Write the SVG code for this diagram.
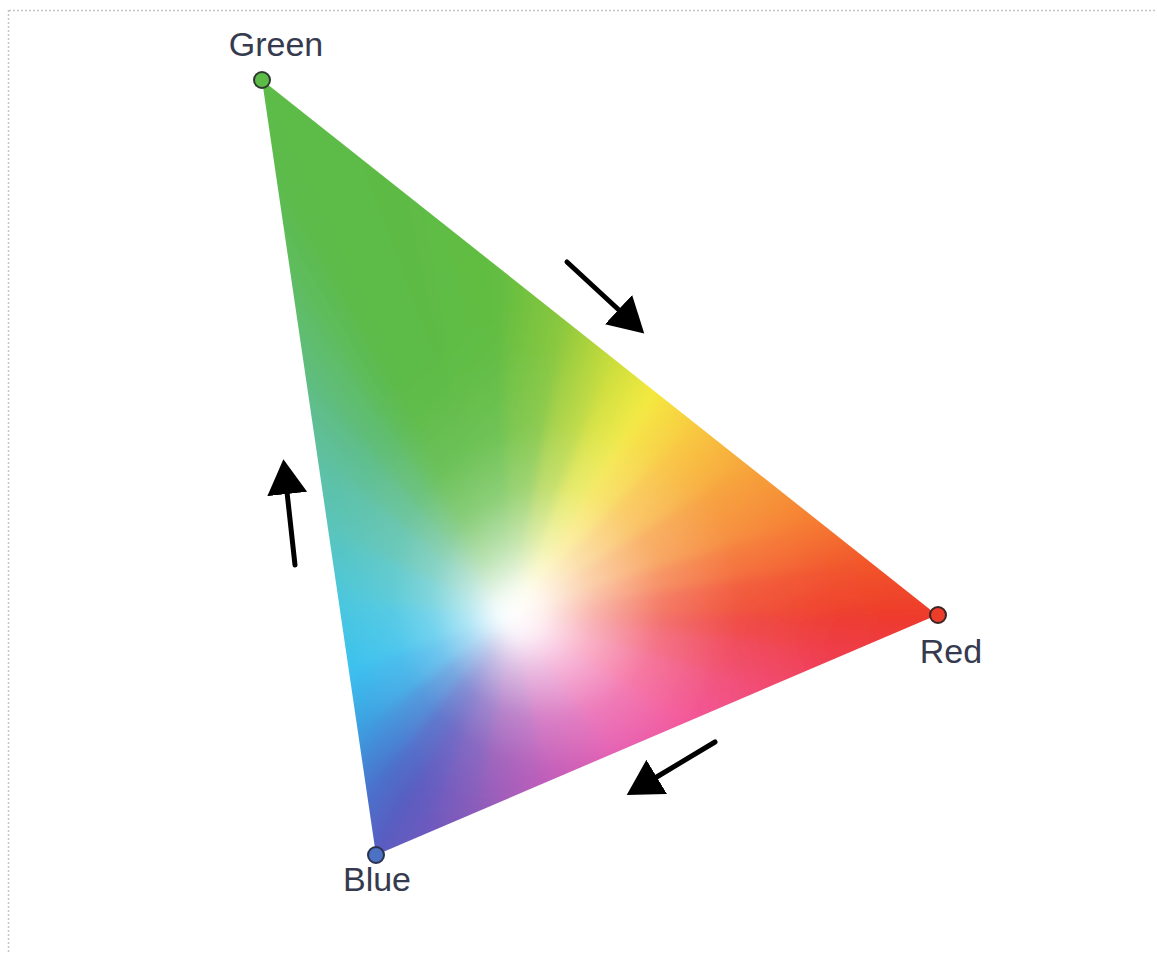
<svg xmlns="http://www.w3.org/2000/svg" width="1157" height="953" viewBox="0 0 1157 953">
<style>
.lbl{font-family:"Liberation Sans",Arial,sans-serif;font-size:34px;fill:#363a4e;text-anchor:middle}
.dot{stroke-width:2}
.arr{stroke:#000;stroke-width:5;stroke-linecap:round;fill:none;marker-end:url(#ah)}
.sl{stroke-width:1.2;stroke-linejoin:round}
.brd{stroke:#c4c4c4;stroke-width:1.5;stroke-dasharray:2 2;fill:none}
</style>
<defs>
<marker id="ah" markerUnits="userSpaceOnUse" markerWidth="40" markerHeight="42" refX="2" refY="20" orient="auto"><path d="M0,0 L35,20 L0,40 Z" fill="#000"/></marker>
<clipPath id="tri"><polygon points="262,80 937,615 376,855"/></clipPath>
<filter id="soft" x="-5%" y="-5%" width="110%" height="110%"><feGaussianBlur stdDeviation="4"/></filter>
<linearGradient id="t0" gradientUnits="userSpaceOnUse" x1="262" y1="80" x2="344.59" y2="48.7"><stop offset="0" stop-color="#5dbb47"/><stop offset="1" stop-color="#5dbb45"/></linearGradient>
<linearGradient id="t1" gradientUnits="userSpaceOnUse" x1="397" y1="187" x2="482.57" y2="172.79"><stop offset="0" stop-color="#5dbb45"/><stop offset="1" stop-color="#62bd42"/></linearGradient>
<linearGradient id="t2" gradientUnits="userSpaceOnUse" x1="498.25" y1="267.25" x2="568.82" y2="271.65"><stop offset="0" stop-color="#62bd42"/><stop offset="1" stop-color="#8cc83c"/></linearGradient>
<linearGradient id="t3" gradientUnits="userSpaceOnUse" x1="565.75" y1="320.75" x2="619.28" y2="335.79"><stop offset="0" stop-color="#8cc83c"/><stop offset="1" stop-color="#c8dc34"/></linearGradient>
<linearGradient id="t4" gradientUnits="userSpaceOnUse" x1="613" y1="358.2" x2="658.19" y2="380.96"><stop offset="0" stop-color="#c8dc34"/><stop offset="1" stop-color="#f3e835"/></linearGradient>
<linearGradient id="t5" gradientUnits="userSpaceOnUse" x1="653.5" y1="390.3" x2="694.34" y2="421.96"><stop offset="0" stop-color="#f3e835"/><stop offset="1" stop-color="#f8c833"/></linearGradient>
<linearGradient id="t6" gradientUnits="userSpaceOnUse" x1="694" y1="422.4" x2="736.65" y2="474.47"><stop offset="0" stop-color="#f8c833"/><stop offset="1" stop-color="#f7a02e"/></linearGradient>
<linearGradient id="t7" gradientUnits="userSpaceOnUse" x1="748" y1="465.2" x2="779.82" y2="534.96"><stop offset="0" stop-color="#f7a02e"/><stop offset="1" stop-color="#f57a2c"/></linearGradient>
<linearGradient id="t8" gradientUnits="userSpaceOnUse" x1="815.5" y1="518.7" x2="827.36" y2="571.04"><stop offset="0" stop-color="#f57a2c"/><stop offset="1" stop-color="#f2552a"/></linearGradient>
<linearGradient id="t9" gradientUnits="userSpaceOnUse" x1="869.5" y1="561.5" x2="873.45" y2="619.33"><stop offset="0" stop-color="#f2552a"/><stop offset="1" stop-color="#ee3b2b"/></linearGradient>
<linearGradient id="b0" gradientUnits="userSpaceOnUse" x1="937" y1="615" x2="935.12" y2="654.88"><stop offset="0" stop-color="#ee3b2b"/><stop offset="1" stop-color="#ef3a45"/></linearGradient>
<linearGradient id="b1" gradientUnits="userSpaceOnUse" x1="852.85" y1="651" x2="843.88" y2="700.6"><stop offset="0" stop-color="#ef3a45"/><stop offset="1" stop-color="#f04068"/></linearGradient>
<linearGradient id="b2" gradientUnits="userSpaceOnUse" x1="768.7" y1="687" x2="743.27" y2="747.63"><stop offset="0" stop-color="#f04068"/><stop offset="1" stop-color="#f24690"/></linearGradient>
<linearGradient id="b3" gradientUnits="userSpaceOnUse" x1="684.55" y1="723" x2="636.02" y2="776.44"><stop offset="0" stop-color="#f24690"/><stop offset="1" stop-color="#e04aa8"/></linearGradient>
<linearGradient id="b4" gradientUnits="userSpaceOnUse" x1="611.6" y1="754.2" x2="544.36" y2="783.07"><stop offset="0" stop-color="#e04aa8"/><stop offset="1" stop-color="#b850b4"/></linearGradient>
<linearGradient id="b5" gradientUnits="userSpaceOnUse" x1="544.3" y1="783" x2="477.21" y2="782.5"><stop offset="0" stop-color="#b850b4"/><stop offset="1" stop-color="#8a58b8"/></linearGradient>
<linearGradient id="b6" gradientUnits="userSpaceOnUse" x1="477" y1="811.8" x2="432.24" y2="798.28"><stop offset="0" stop-color="#8a58b8"/><stop offset="1" stop-color="#6a5abf"/></linearGradient>
<linearGradient id="b7" gradientUnits="userSpaceOnUse" x1="420.9" y1="835.8" x2="392.4" y2="821.75"><stop offset="0" stop-color="#6a5abf"/><stop offset="1" stop-color="#5a5cc0"/></linearGradient>
<linearGradient id="l0" gradientUnits="userSpaceOnUse" x1="376" y1="855" x2="341.03" y2="831.48"><stop offset="0" stop-color="#5a5cc0"/><stop offset="1" stop-color="#4a72cc"/></linearGradient>
<linearGradient id="l1" gradientUnits="userSpaceOnUse" x1="366.9" y1="793" x2="331.44" y2="756.91"><stop offset="0" stop-color="#4a72cc"/><stop offset="1" stop-color="#3c9ee0"/></linearGradient>
<linearGradient id="l2" gradientUnits="userSpaceOnUse" x1="357.8" y1="731" x2="329.95" y2="678.97"><stop offset="0" stop-color="#3c9ee0"/><stop offset="1" stop-color="#38c0ee"/></linearGradient>
<linearGradient id="l3" gradientUnits="userSpaceOnUse" x1="348.6" y1="669" x2="340.65" y2="599.06"><stop offset="0" stop-color="#38c0ee"/><stop offset="1" stop-color="#48c6dc"/></linearGradient>
<linearGradient id="l4" gradientUnits="userSpaceOnUse" x1="338.4" y1="599.3" x2="355.92" y2="537.39"><stop offset="0" stop-color="#48c6dc"/><stop offset="1" stop-color="#58c4bc"/></linearGradient>
<linearGradient id="l5" gradientUnits="userSpaceOnUse" x1="328.1" y1="529.5" x2="360.2" y2="480.51"><stop offset="0" stop-color="#58c4bc"/><stop offset="1" stop-color="#5ec0a0"/></linearGradient>
<linearGradient id="l6" gradientUnits="userSpaceOnUse" x1="316.7" y1="452" x2="349.73" y2="419.1"><stop offset="0" stop-color="#5ec0a0"/><stop offset="1" stop-color="#5ebd80"/></linearGradient>
<linearGradient id="l7" gradientUnits="userSpaceOnUse" x1="305.3" y1="374.5" x2="343.79" y2="346.17"><stop offset="0" stop-color="#5ebd80"/><stop offset="1" stop-color="#5ebc60"/></linearGradient>
<linearGradient id="l8" gradientUnits="userSpaceOnUse" x1="290.5" y1="273.75" x2="323.36" y2="254.54"><stop offset="0" stop-color="#5ebc60"/><stop offset="1" stop-color="#5dbb4c"/></linearGradient>
<linearGradient id="l9" gradientUnits="userSpaceOnUse" x1="275.7" y1="173" x2="301.82" y2="160"><stop offset="0" stop-color="#5dbb4c"/><stop offset="1" stop-color="#5dbb47"/></linearGradient>
<radialGradient id="wh" gradientUnits="userSpaceOnUse" cx="600" cy="585" r="290" fx="512" fy="615"><stop offset="0" stop-color="#fff" stop-opacity="1"/><stop offset="0.08" stop-color="#fff" stop-opacity="0.92"/><stop offset="0.22" stop-color="#fff" stop-opacity="0.6"/><stop offset="0.4" stop-color="#fff" stop-opacity="0.28"/><stop offset="0.6" stop-color="#fff" stop-opacity="0.1"/><stop offset="0.85" stop-color="#fff" stop-opacity="0.02"/><stop offset="1" stop-color="#fff" stop-opacity="0"/></radialGradient>
</defs>
<rect width="1157" height="953" fill="#fff"/>
<g id="border">
<path class="brd" d="M9,10.5 H1157"/>
<path class="brd" d="M8.5,10 V953"/>
</g>
<g id="color-triangle" clip-path="url(#tri)">
<g filter="url(#soft)">
<polygon class="sl" fill="url(#t0)" stroke="url(#t0)" points="512,615 199.5,-53.75 368.25,80"/>
<polygon class="sl" fill="url(#t1)" stroke="url(#t1)" points="512,615 368.25,80 494.8,180.3"/>
<polygon class="sl" fill="url(#t2)" stroke="url(#t2)" points="512,615 494.8,180.3 579.2,247.2"/>
<polygon class="sl" fill="url(#t3)" stroke="url(#t3)" points="512,615 579.2,247.2 638.25,294"/>
<polygon class="sl" fill="url(#t4)" stroke="url(#t4)" points="512,615 638.25,294 688.9,334.1"/>
<polygon class="sl" fill="url(#t5)" stroke="url(#t5)" points="512,615 688.9,334.1 739.5,374.25"/>
<polygon class="sl" fill="url(#t6)" stroke="url(#t6)" points="512,615 739.5,374.25 807,427.75"/>
<polygon class="sl" fill="url(#t7)" stroke="url(#t7)" points="512,615 807,427.75 891.4,494.6"/>
<polygon class="sl" fill="url(#t8)" stroke="url(#t8)" points="512,615 891.4,494.6 958.9,548.1"/>
<polygon class="sl" fill="url(#t9)" stroke="url(#t9)" points="512,615 958.9,548.1 1043.25,615"/>
<polygon class="sl" fill="url(#b0)" stroke="url(#b0)" points="512,615 1043.25,615 938.1,660"/>
<polygon class="sl" fill="url(#b1)" stroke="url(#b1)" points="512,615 938.1,660 832.9,705"/>
<polygon class="sl" fill="url(#b2)" stroke="url(#b2)" points="512,615 832.9,705 727.7,750"/>
<polygon class="sl" fill="url(#b3)" stroke="url(#b3)" points="512,615 727.7,750 636.5,789"/>
<polygon class="sl" fill="url(#b4)" stroke="url(#b4)" points="512,615 636.5,789 552.4,825"/>
<polygon class="sl" fill="url(#b5)" stroke="url(#b5)" points="512,615 552.4,825 468.25,861"/>
<polygon class="sl" fill="url(#b6)" stroke="url(#b6)" points="512,615 468.25,861 398.1,891"/>
<polygon class="sl" fill="url(#b7)" stroke="url(#b7)" points="512,615 398.1,891 342,915"/>
<polygon class="sl" fill="url(#l0)" stroke="url(#l0)" points="512,615 342,915 330.6,837.5"/>
<polygon class="sl" fill="url(#l1)" stroke="url(#l1)" points="512,615 330.6,837.5 319.25,760"/>
<polygon class="sl" fill="url(#l2)" stroke="url(#l2)" points="512,615 319.25,760 307.75,682.5"/>
<polygon class="sl" fill="url(#l3)" stroke="url(#l3)" points="512,615 307.75,682.5 295,595.4"/>
<polygon class="sl" fill="url(#l4)" stroke="url(#l4)" points="512,615 295,595.4 282.1,508.1"/>
<polygon class="sl" fill="url(#l5)" stroke="url(#l5)" points="512,615 282.1,508.1 267.9,411.25"/>
<polygon class="sl" fill="url(#l6)" stroke="url(#l6)" points="512,615 267.9,411.25 253.6,314.4"/>
<polygon class="sl" fill="url(#l7)" stroke="url(#l7)" points="512,615 253.6,314.4 235.1,188.4"/>
<polygon class="sl" fill="url(#l8)" stroke="url(#l8)" points="512,615 235.1,188.4 216.6,62.5"/>
<polygon class="sl" fill="url(#l9)" stroke="url(#l9)" points="512,615 216.6,62.5 199.5,-53.75"/>
<circle fill="url(#wh)" cx="600" cy="585" r="290"/>
</g>
</g>
<g id="connectors">
<path class="arr" d="M567,262 L620,311"/>
<path class="arr" d="M295,565 L287,492"/>
<path class="arr" d="M715,742 L655,778"/>
</g>
<g id="node-green">
<circle class="dot" cx="262" cy="80" r="8" fill="#5dbb47" stroke="#2e3a2e"/>
<text class="lbl" x="276" y="56">Green</text>
</g>
<g id="node-red">
<circle class="dot" cx="938" cy="615" r="8" fill="#ec3d2b" stroke="#3a2424"/>
<text class="lbl" x="951" y="663">Red</text>
</g>
<g id="node-blue">
<circle class="dot" cx="376" cy="855" r="8" fill="#4d72c4" stroke="#2a3050"/>
<text class="lbl" x="377" y="891">Blue</text>
</g>
</svg>
